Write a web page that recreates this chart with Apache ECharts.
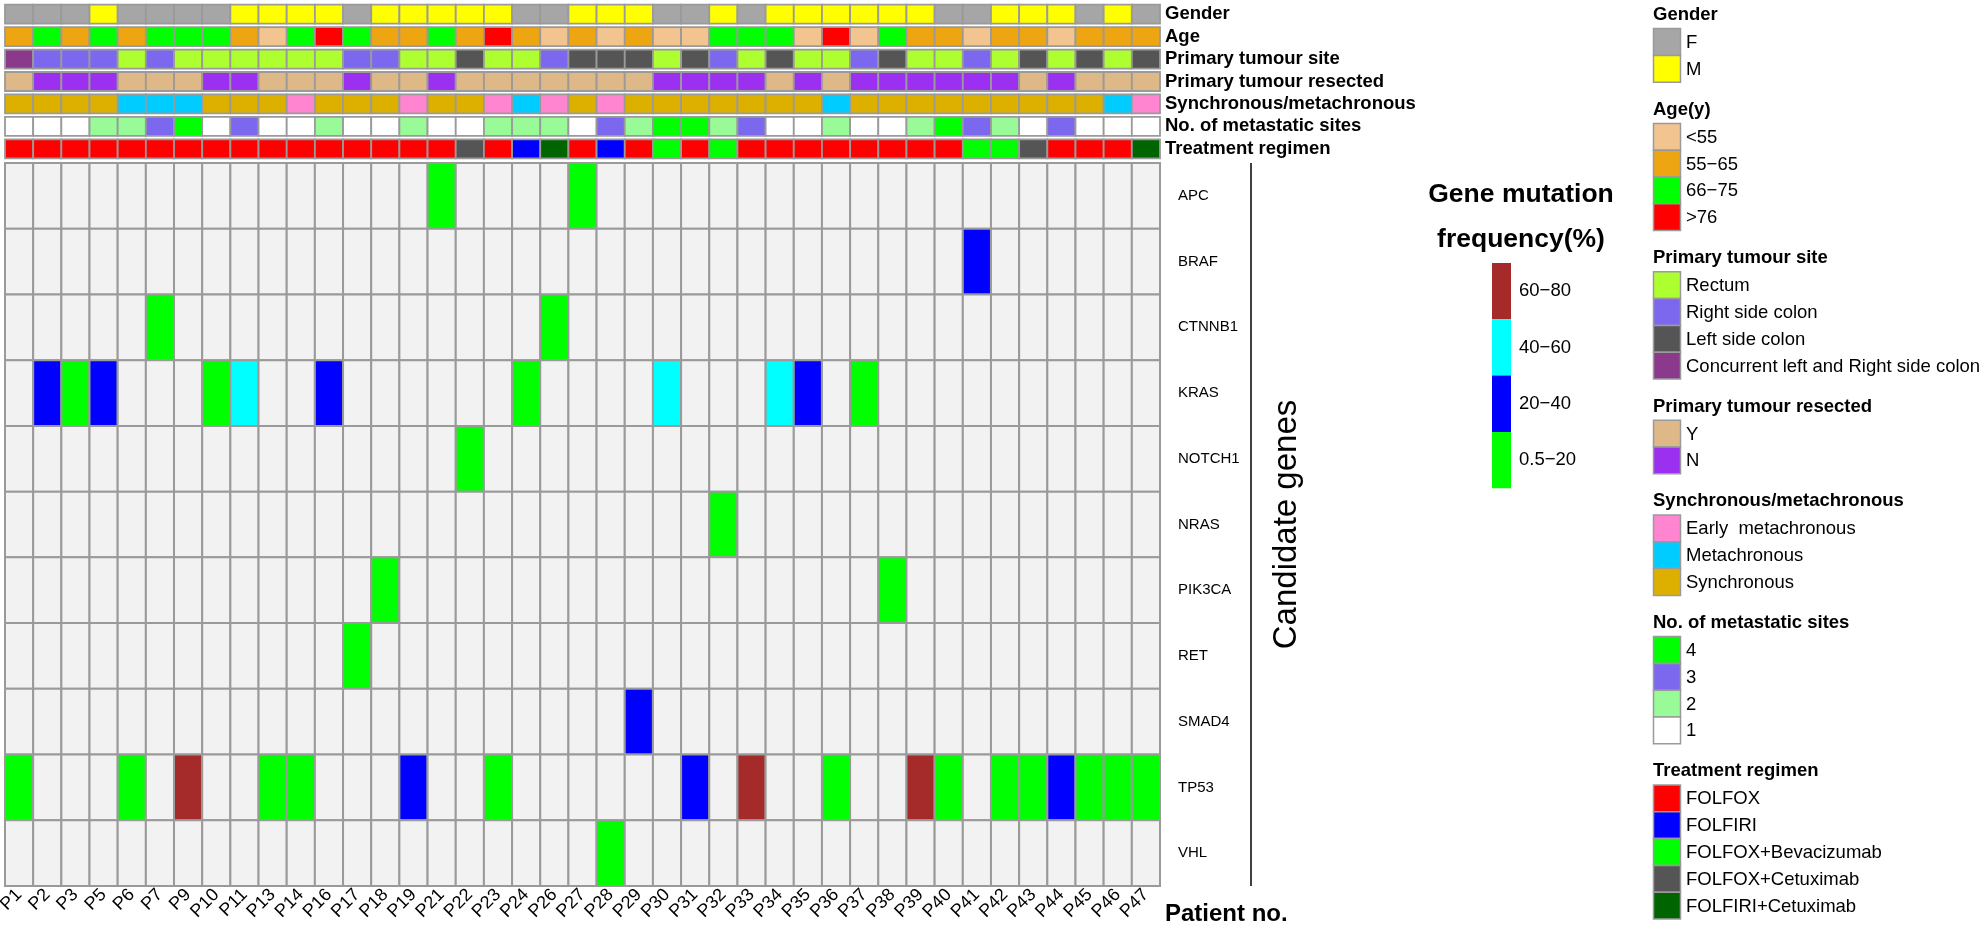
<!DOCTYPE html>
<html><head><meta charset="utf-8">
<script src="https://cdn.jsdelivr.net/npm/echarts@6/dist/echarts.min.js"></script>
<style>html,body{margin:0;padding:0;background:#fff}#c{width:1985px;height:931px}</style>
</head><body><div id="c"></div>
<script>
// ---------- data ----------
const patients = ['P1','P2','P3','P5','P6','P7','P9','P10','P11','P13','P14','P16','P17','P18','P19','P21','P22','P23','P24','P26','P27','P28','P29','P30','P31','P32','P33','P34','P35','P36','P37','P38','P39','P40','P41','P42','P43','P44','P45','P46','P47'];
const genes = ['APC','BRAF','CTNNB1','KRAS','NOTCH1','NRAS','PIK3CA','RET','SMAD4','TP53','VHL'];
const annotationRows = ['Gender','Age','Primary tumour site','Primary tumour resected','Synchronous/metachronous','No. of metastatic sites','Treatment regimen'];

const gender = ['F','F','F','M','F','F','F','F','M','M','M','M','F','M','M','M','M','M','F','F','M','M','M','F','F','M','F','M','M','M','M','M','M','F','F','M','M','M','F','M','F'];
const ageGroup = ['55−65','66−75','55−65','66−75','55−65','66−75','66−75','66−75','55−65','<55','66−75','>76','66−75','55−65','55−65','66−75','55−65','>76','55−65','<55','55−65','<55','55−65','<55','<55','66−75','66−75','66−75','<55','>76','<55','66−75','55−65','55−65','<55','55−65','55−65','<55','55−65','55−65','55−65'];
const tumourSite = ['Concurrent left and Right side colon','Right side colon','Right side colon','Right side colon','Rectum','Right side colon','Rectum','Rectum','Rectum','Rectum','Rectum','Rectum','Right side colon','Right side colon','Rectum','Rectum','Left side colon','Rectum','Rectum','Right side colon','Left side colon','Left side colon','Left side colon','Rectum','Left side colon','Right side colon','Rectum','Left side colon','Rectum','Rectum','Right side colon','Left side colon','Rectum','Rectum','Right side colon','Rectum','Left side colon','Rectum','Left side colon','Rectum','Left side colon'];
const tumourResected = ['Y','N','N','N','Y','Y','Y','N','N','Y','Y','Y','N','Y','Y','N','Y','Y','Y','Y','Y','Y','Y','N','N','N','N','Y','N','Y','N','N','N','N','N','N','Y','N','Y','Y','Y'];
const syncMeta = ['Synchronous','Synchronous','Synchronous','Synchronous','Metachronous','Metachronous','Metachronous','Synchronous','Synchronous','Synchronous','Early  metachronous','Synchronous','Synchronous','Synchronous','Early  metachronous','Synchronous','Synchronous','Early  metachronous','Metachronous','Early  metachronous','Synchronous','Early  metachronous','Synchronous','Synchronous','Synchronous','Synchronous','Synchronous','Synchronous','Synchronous','Metachronous','Synchronous','Synchronous','Synchronous','Synchronous','Synchronous','Synchronous','Synchronous','Synchronous','Synchronous','Metachronous','Early  metachronous'];
const metastaticSites = ['1','1','1','2','2','3','4','1','3','1','1','2','1','1','2','1','1','2','2','2','1','3','2','4','4','2','3','1','1','2','1','1','2','4','3','2','1','3','1','1','1'];
const treatment = ['FOLFOX','FOLFOX','FOLFOX','FOLFOX','FOLFOX','FOLFOX','FOLFOX','FOLFOX','FOLFOX','FOLFOX','FOLFOX','FOLFOX','FOLFOX','FOLFOX','FOLFOX','FOLFOX','FOLFOX+Cetuximab','FOLFOX','FOLFIRI','FOLFIRI+Cetuximab','FOLFOX','FOLFIRI','FOLFOX','FOLFOX+Bevacizumab','FOLFOX','FOLFOX+Bevacizumab','FOLFOX','FOLFOX','FOLFOX','FOLFOX','FOLFOX','FOLFOX','FOLFOX','FOLFOX','FOLFOX+Bevacizumab','FOLFOX+Bevacizumab','FOLFOX+Cetuximab','FOLFOX','FOLFOX','FOLFOX','FOLFIRI+Cetuximab'];

// mutation frequency class: 1 = 0.5-20, 2 = 20-40, 3 = 40-60, 4 = 60-80
const mutations = [
  ['APC','P21',1],['APC','P27',1],
  ['BRAF','P41',2],
  ['CTNNB1','P7',1],['CTNNB1','P26',1],
  ['KRAS','P2',2],['KRAS','P3',1],['KRAS','P5',2],['KRAS','P10',1],['KRAS','P11',3],['KRAS','P16',2],['KRAS','P24',1],['KRAS','P30',3],['KRAS','P34',3],['KRAS','P35',2],['KRAS','P37',1],
  ['NOTCH1','P22',1],
  ['NRAS','P32',1],
  ['PIK3CA','P18',1],['PIK3CA','P38',1],
  ['RET','P17',1],
  ['SMAD4','P29',2],
  ['TP53','P1',1],['TP53','P6',1],['TP53','P9',4],['TP53','P13',1],['TP53','P14',1],['TP53','P19',2],['TP53','P23',1],['TP53','P31',2],['TP53','P33',4],['TP53','P36',1],['TP53','P39',4],['TP53','P40',1],['TP53','P42',1],['TP53','P43',1],['TP53','P44',2],['TP53','P45',1],['TP53','P46',1],['TP53','P47',1],
  ['VHL','P28',1]
];
const freqLabels = ['0.5−20','20−40','40−60','60−80'];
const freqColors = ['#00FF00','#0000FF','#00FFFF','#A52A2A'];

// legend groups (title, categories, colors)
const legendGroups = [
  {title:'Gender', items:['F','M'], colors:['#A6A6A6','#FFFF00']},
  {title:'Age(y)', items:['<55','55−65','66−75','>76'], colors:['#F2C590','#EEA512','#00FF00','#FF0000']},
  {title:'Primary tumour site', items:['Rectum','Right side colon','Left side colon','Concurrent left and Right side colon'], colors:['#ADFF2F','#7B68EE','#555555','#8B3A8B']},
  {title:'Primary tumour resected', items:['Y','N'], colors:['#DEB887','#9B30F0']},
  {title:'Synchronous/metachronous', items:['Early  metachronous','Metachronous','Synchronous'], colors:['#FF85D0','#00CCFF','#DDB000']},
  {title:'No. of metastatic sites', items:['4','3','2','1'], colors:['#00FF00','#7B68EE','#98FB98','#FFFFFF']},
  {title:'Treatment regimen', items:['FOLFOX','FOLFIRI','FOLFOX+Bevacizumab','FOLFOX+Cetuximab','FOLFIRI+Cetuximab'], colors:['#FF0000','#0000FF','#00FF00','#555555','#006400']}
];
const annotationValues = [gender, ageGroup, tumourSite, tumourResected, syncMeta, metastaticSites, treatment];

// ---------- build ----------
const annData = [], annColors = [];
annotationValues.forEach((vals, r) => {
  const g = legendGroups[r];
  vals.forEach((v, c) => {
    annData.push([c, r]);
    annColors.push(g.colors[g.items.indexOf(v)]);
  });
});
const mutLookup = {};
mutations.forEach(m => { mutLookup[m[0] + '|' + m[1]] = m[2]; });
const heatData = [];
genes.forEach((g, r) => patients.forEach((p, c) => heatData.push([c, r, mutLookup[g + '|' + p] || 0])));

const FONT = 'Liberation Sans, Arial, sans-serif';
const HEAT_TOP = 163, HEAT_H = 723;
const graphics = [];
// legend graphics
let y = 15;
legendGroups.forEach((g) => {
  graphics.push({type:'text', x:1653, y:y, style:{text:g.title, font:'bold 18.5px ' + FONT, fill:'#000', textVerticalAlign:'middle'}});
  y += 27;
  g.items.forEach((it, ii) => {
    graphics.push({type:'rect', shape:{x:1653.5, y:y - 13.4, width:27, height:26.8}, style:{fill:g.colors[ii], stroke:'#9a9a9a', lineWidth:1.5}});
    graphics.push({type:'text', x:1686, y:y + 1, style:{text:it, font:'18.5px ' + FONT, fill:'#000', textVerticalAlign:'middle'}});
    if (ii < g.items.length - 1) y += 26.8;
  });
  y += 41;
});
graphics.push({type:'line', shape:{x1:1251, y1:HEAT_TOP, x2:1251, y2:HEAT_TOP + HEAT_H}, style:{stroke:'#000', lineWidth:1.5}});
graphics.push({type:'text', x:1287, y:HEAT_TOP + HEAT_H / 2, rotation:Math.PI/2, style:{text:'Candidate genes', font:'33px ' + FONT, fill:'#000', textAlign:'center', textVerticalAlign:'middle'}});
graphics.push({type:'text', x:1165, y:914, style:{text:'Patient no.', font:'bold 24px ' + FONT, fill:'#000', textVerticalAlign:'middle'}});
graphics.push({type:'text', x:1521, y:195, style:{text:'Gene mutation', font:'bold 26.5px ' + FONT, fill:'#000', textAlign:'center', textVerticalAlign:'middle'}});
graphics.push({type:'text', x:1521, y:240, style:{text:'frequency(%)', font:'bold 26.5px ' + FONT, fill:'#000', textAlign:'center', textVerticalAlign:'middle'}});

const chart = echarts.init(document.getElementById('c'), null, {renderer:'canvas'});
chart.setOption({
  backgroundColor:'#fff',
  animation:false,
  textStyle:{fontFamily:FONT},
  grid:[
    {left:5, top:3, width:1155, height:157, outerBoundsMode:'none'},
    {left:5, top:HEAT_TOP, width:1155, height:HEAT_H, outerBoundsMode:'none'}
  ],
  xAxis:[
    {type:'category', gridIndex:0, data:patients, show:false},
    {type:'category', gridIndex:1, data:patients, position:'bottom',
      axisLine:{show:false}, axisTick:{show:false}, splitLine:{show:false},
      axisLabel:{interval:0, rotate:45, margin:6, fontSize:18, color:'#000', fontFamily:FONT}}
  ],
  yAxis:[
    {type:'category', gridIndex:0, data:annotationRows, inverse:true, position:'right',
      axisLine:{show:false}, axisTick:{show:false}, splitLine:{show:false},
      axisLabel:{interval:0, margin:5, fontSize:18.5, fontWeight:'bold', color:'#000', fontFamily:FONT}},
    {type:'category', gridIndex:1, data:genes, inverse:true, position:'right',
      axisLine:{show:false}, axisTick:{show:false}, splitLine:{show:false},
      axisLabel:{interval:0, margin:18, fontSize:15, color:'#000', fontFamily:FONT}}
  ],
  visualMap:{
    type:'piecewise', seriesIndex:1, dimension:2, orient:'vertical', align:'left', padding:0,
    left:1492, top:263, itemWidth:19, itemHeight:56.3, itemGap:0, itemSymbol:'rect', textGap:8,
    selectedMode:false, hoverLink:false,
    textStyle:{fontSize:18.5, color:'#000', fontFamily:FONT},
    pieces: freqLabels.map((l, i) => ({value:i + 1, label:l, color:freqColors[i]})),
    outOfRange:{color:'#F2F2F2'}
  },
  series:[
    {type:'custom', xAxisIndex:0, yAxisIndex:0, data:annData, silent:true,
      renderItem:(params, api) => {
        const p = api.coord([api.value(0), api.value(1)]);
        const s = api.size([1, 1]);
        const h = 19;
        return {type:'rect', shape:{x:p[0] - s[0]/2, y:p[1] - h/2, width:s[0], height:h},
          style:{fill:annColors[params.dataIndex], stroke:'#9a9a9a', lineWidth:1.8}};
      }},
    {type:'custom', xAxisIndex:1, yAxisIndex:1, data:heatData, silent:true,
      renderItem:(params, api) => {
        const p = api.coord([api.value(0), api.value(1)]);
        const s = api.size([1, 1]);
        return {type:'rect', shape:{x:p[0] - s[0]/2, y:p[1] - s[1]/2, width:s[0], height:s[1]},
          style:{fill:api.visual('color'), stroke:'#9a9a9a', lineWidth:2}};
      }}
  ],
  graphic:graphics
});
</script></body></html>
